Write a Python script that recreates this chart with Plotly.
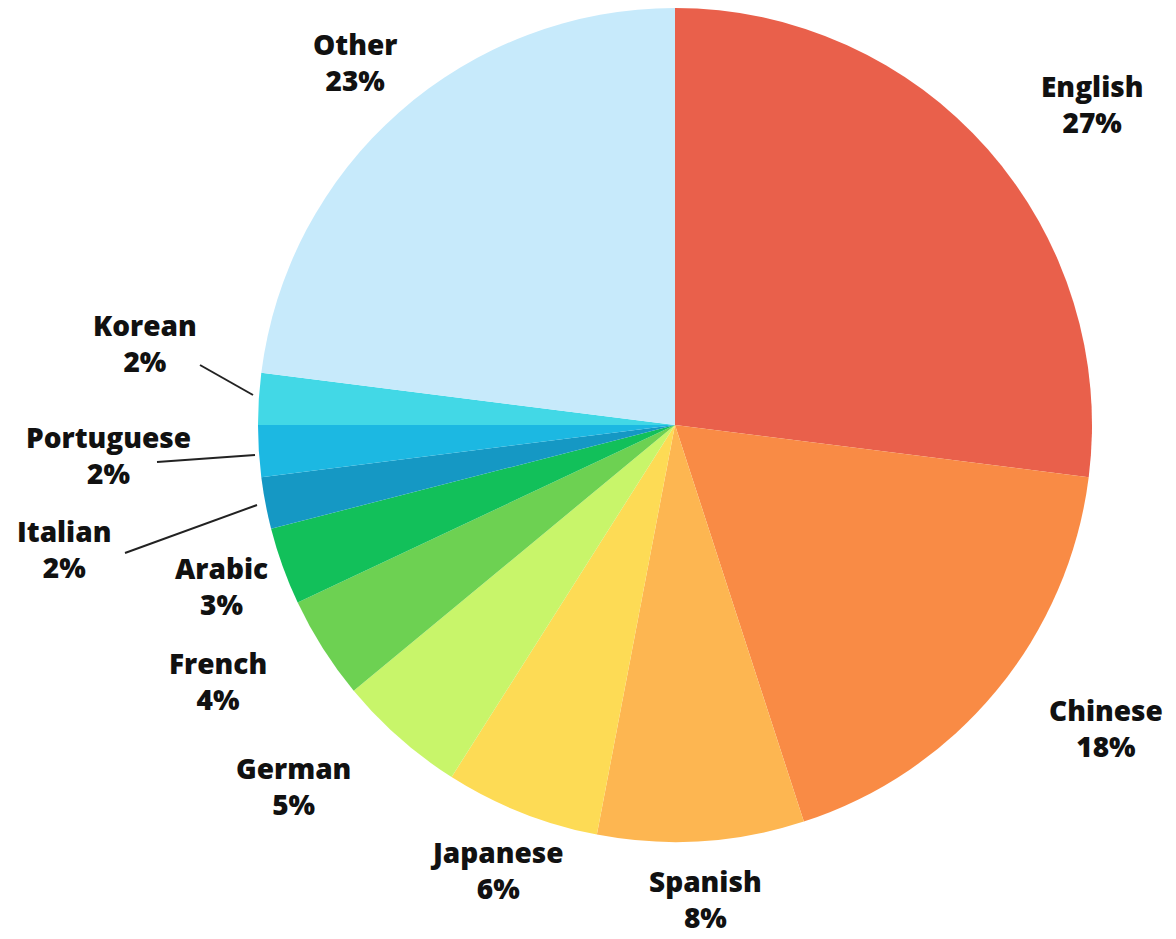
import plotly.graph_objects as go

W, H = 1176, 939

languages = ["English", "Chinese", "Spanish", "Japanese", "German", "French",
             "Arabic", "Italian", "Portuguese", "Korean", "Other"]
shares = [27, 18, 8, 6, 5, 4, 3, 2, 2, 2, 23]
colors = ["#E9604B", "#F98B45", "#FDB651", "#FDDB55", "#C8F56A", "#6DD152",
          "#12C05A", "#1598C4", "#1CB8E2", "#42D8E6", "#C7EAFB"]

# label anchor points (pixels from the top-left of the page)
label_pos = {
    "English": (1092, 104), "Chinese": (1106, 728), "Spanish": (705, 899),
    "Japanese": (497, 870), "German": (293, 786), "French": (218, 681),
    "Arabic": (222, 586), "Italian": (64, 549), "Portuguese": (108, 455),
    "Korean": (145, 343), "Other": (355, 62),
}
# leader lines for the thin slices: (x0, y0, x1, y1) in pixels
leaders = {
    "Korean": (200, 365, 253, 395),
    "Portuguese": (157, 462, 255, 455),
    "Italian": (125, 553, 257, 505),
}


def px(x):
    return x / W


def py(y):
    return 1 - y / H


fig = go.Figure(go.Pie(
    labels=languages,
    values=shares,
    sort=False,
    direction="clockwise",
    rotation=0,
    marker=dict(colors=colors, line=dict(width=0)),
    textinfo="none",
    hoverinfo="label+percent",
    domain=dict(x=[px(258), px(1092)], y=[py(842), py(8)]),
    showlegend=False,
))

for name, val in zip(languages, shares):
    x, y = label_pos[name]
    fig.add_annotation(
        x=px(x), y=py(y), xref="paper", yref="paper",
        text=f"{name}<br>{val}%", showarrow=False,
        font=dict(family="'Open Sans', Lato, sans-serif", size=28,
                  color="#111111", weight=800),
        align="center", xanchor="center", yanchor="middle",
    )

for name, (x0, y0, x1, y1) in leaders.items():
    fig.add_shape(type="line", xref="paper", yref="paper",
                  x0=px(x0), y0=py(y0), x1=px(x1), y1=py(y1),
                  line=dict(color="#222222", width=2))

fig.update_layout(
    width=W, height=H,
    margin=dict(l=0, r=0, t=0, b=0),
    paper_bgcolor="white", plot_bgcolor="white",
)

fig.write_html("out.html")
